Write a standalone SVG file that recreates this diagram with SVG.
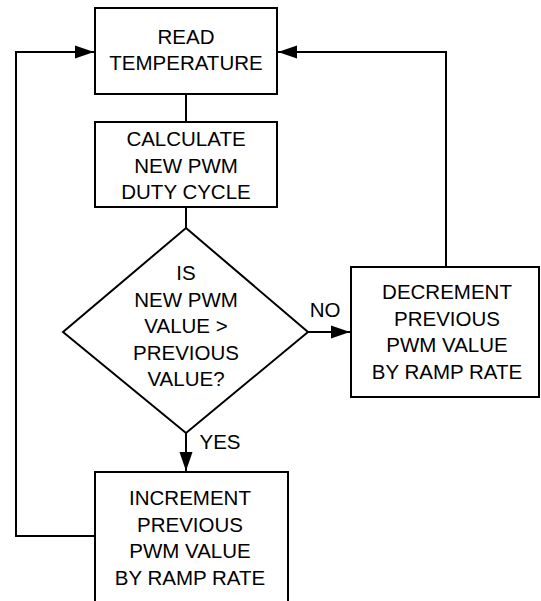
<svg xmlns="http://www.w3.org/2000/svg" width="541" height="601" viewBox="0 0 541 601">
<style>
.shape{fill:#fff;stroke:#000;stroke-width:2}
.line{fill:none;stroke:#000;stroke-width:2}
text{font-family:"Liberation Sans",Arial,Helvetica,sans-serif;font-size:20.5px;fill:#000;text-anchor:middle}
</style>
<defs>
<marker id="arr" markerUnits="userSpaceOnUse" markerWidth="20" markerHeight="14" refX="19" refY="7" orient="auto">
<path d="M0,0.5 L19,7 L0,13.5 Z" fill="#000"/>
</marker>
</defs>
<rect width="541" height="601" fill="#fff"/>
<g id="connectors">
<path class="line" d="M186,94 V122"/>
<path class="line" d="M186,207 V228"/>
<path class="line" d="M308,332 H350" marker-end="url(#arr)"/>
<path class="line" d="M186,433 V471" marker-end="url(#arr)"/>
<path class="line" d="M446,267 V52 H278" marker-end="url(#arr)"/>
<path class="line" d="M95,536 H16 V52 H94" marker-end="url(#arr)"/>
<text x="325" y="317">NO</text>
<text x="220" y="449">YES</text>
</g>
<g id="read">
<rect class="shape" x="95" y="8" width="182" height="86"/>
<text x="186" y="44">READ</text>
<text x="186" y="70">TEMPERATURE</text>
</g>
<g id="calc">
<rect class="shape" x="95" y="122" width="182" height="85"/>
<text x="186" y="146">CALCULATE</text>
<text x="186" y="172.5">NEW PWM</text>
<text x="186" y="199">DUTY CYCLE</text>
</g>
<g id="decision">
<polygon class="shape" points="186,228 308,332 186,433 63,332"/>
<text x="186" y="280">IS</text>
<text x="186" y="306.5">NEW PWM</text>
<text x="186" y="333">VALUE &gt;</text>
<text x="186" y="359.5">PREVIOUS</text>
<text x="186" y="386">VALUE?</text>
</g>
<g id="decrement">
<rect class="shape" x="351" y="267" width="188" height="130"/>
<text x="447" y="299">DECREMENT</text>
<text x="447" y="325.5">PREVIOUS</text>
<text x="447" y="352">PWM VALUE</text>
<text x="447" y="378.5">BY RAMP RATE</text>
</g>
<g id="increment">
<rect class="shape" x="95" y="472" width="193" height="150"/>
<text x="190" y="505">INCREMENT</text>
<text x="190" y="531.5">PREVIOUS</text>
<text x="190" y="558">PWM VALUE</text>
<text x="190" y="584.5">BY RAMP RATE</text>
</g>
</svg>
